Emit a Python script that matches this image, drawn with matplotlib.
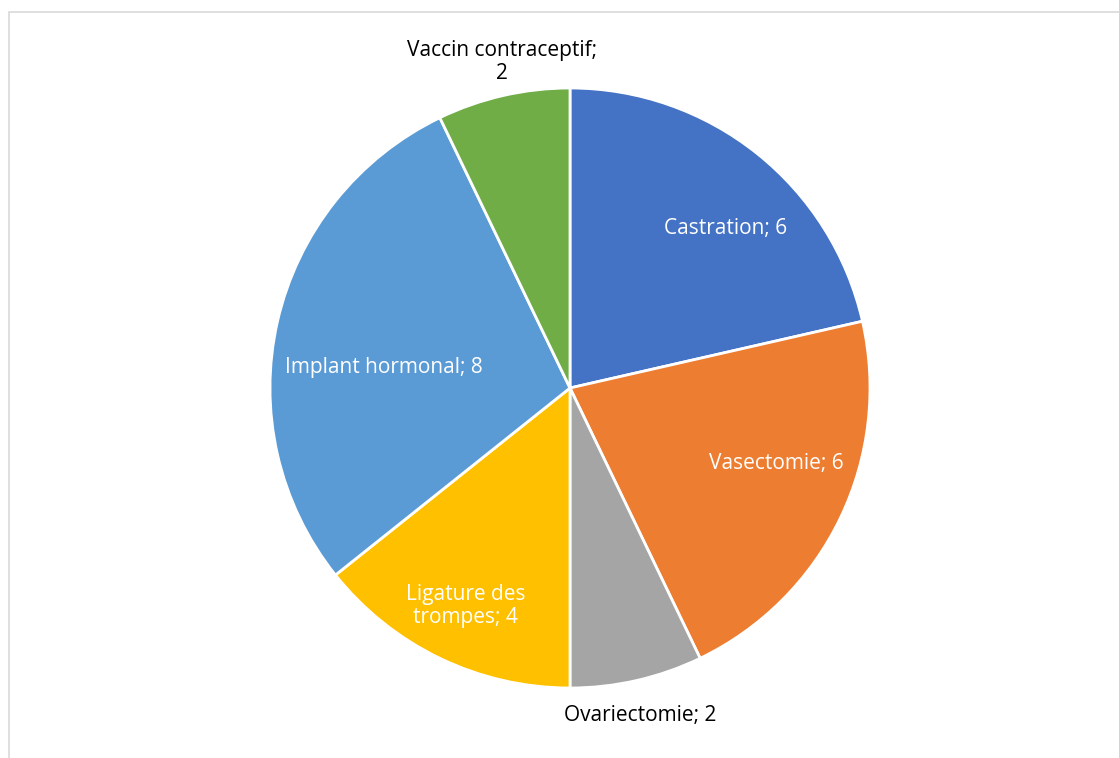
import matplotlib.pyplot as plt
from matplotlib.patches import Rectangle

# Données du graphique
categories = ["Castration", "Vasectomie", "Ovariectomie", "Ligature des\ntrompes",
              "Implant hormonal", "Vaccin contraceptif;\n"]
valeurs = [6, 6, 2, 4, 8, 2]
couleurs = ["#4472C4", "#ED7D31", "#A5A5A5", "#FFC000", "#5B9BD5", "#70AD47"]

# position des étiquettes (relative au rayon) et couleur du texte
pos_etiquettes = [(0.52, 0.533), (0.687, -0.253), (0.233, -1.093),
                  (-0.347, -0.727), (-0.62, 0.067), (-0.227, 1.087)]
couleur_texte = ["white", "white", "black", "white", "white", "black"]

W, H = 1119, 758
fig = plt.figure(figsize=(W / 100, H / 100), dpi=100)
plt.rcParams['font.family'] = ['Open Sans', 'DejaVu Sans']

# cadre gris clair du graphique
fig.patches.append(Rectangle((8.5 / W, -0.01), 1.02, 1 - 11.5 / H + 0.01,
                             transform=fig.transFigure, fill=False,
                             edgecolor="#D9D9D9", linewidth=1.2))

cx, cy, r = 570, 388, 300
ax = fig.add_axes([(cx - r) / W, (H - cy - r) / H, 2 * r / W, 2 * r / H])
ax.pie(valeurs, colors=couleurs, startangle=90, counterclock=False, radius=1,
       wedgeprops=dict(edgecolor="white", linewidth=2))
ax.set_xlim(-1, 1)
ax.set_ylim(-1, 1)
ax.set_aspect("auto")
ax.axis("off")

for cat, val, (x, y), c in zip(categories, valeurs, pos_etiquettes, couleur_texte):
    if cat.endswith("\n"):
        txt = cat + str(val)
    else:
        txt = f"{cat}; {val}"
    ax.text(x, y, txt, ha="center", va="center", color=c, fontsize=15,
            linespacing=1.15, clip_on=False)

fig.savefig("out.png", dpi=100)
